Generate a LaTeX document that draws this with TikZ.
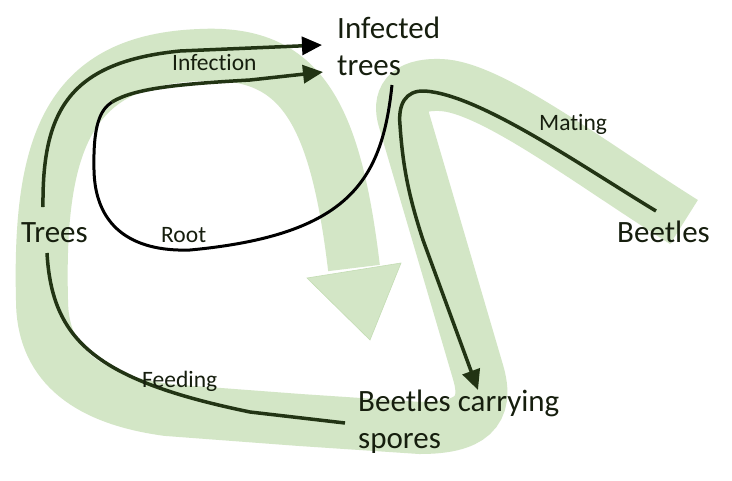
\documentclass[tikz,border=0pt]{standalone}
\usepackage{fontspec}
\setmainfont{Carlito}[Ligatures=NoCommon]
\usetikzlibrary{arrows.meta}

\definecolor{bandgreen}{RGB}{211,230,198}
\definecolor{bandedge}{RGB}{196,221,180}
\definecolor{flowgreen}{RGB}{34,52,20}
\definecolor{textdark}{RGB}{22,30,14}

\begin{document}
\begin{tikzpicture}[
        x=1pt,y=-1pt,
        band/.style={draw=bandgreen,line width=52pt},
        flow/.style={draw=flowgreen,line width=3.5pt},
        tip/.style={-{Triangle[length=20pt,width=18pt]}},
        bigtext/.style={font=\fontsize{31}{37}\selectfont,text=textdark,inner sep=0pt,align=left},
        smalltext/.style={font=\fontsize{23.5}{28}\selectfont,text=textdark,inner sep=0pt}
    ]
    \useasboundingbox[fill=white] (0,0) rectangle (732,480);

    % the wide pale band, one stroke from Beetles round to the big head
    \draw[band] (684,222)
        .. controls (590,163) and (490,86) .. (440,85)
        .. controls (405,84) and (398,100) .. (404,120)
        -- (478,372)
        .. controls (490,412) and (470,428) .. (420,428)
        -- (300,420) -- (167,410)
        .. controls (80,398) and (42,360) .. (42,300)
        .. controls (38,140) and (70,60) .. (200,55)
        .. controls (300,50) and (335,110) .. (354,268);
    \filldraw[fill=bandgreen,draw=bandedge,line width=0.6pt]
        (307,278) -- (401,263) -- (370,340) -- cycle;

    % end points of the thin arrows
    \coordinate (treestop) at (43,207);
    \coordinate (treesbottom) at (47,253);
    \coordinate (infectedtop) at (322,45);
    \coordinate (infectedlow) at (323,72);
    \coordinate (rootstart) at (392,85);
    \coordinate (rootturn) at (112,102);
    \coordinate (beetlesend) at (656,211);
    \coordinate (carrierstop) at (478,390);
    \coordinate (carriersleft) at (345,423);

    \draw[flow,-{Triangle[length=20pt,width=18pt,color=black]}] (treestop)
        .. controls (42,110) and (70,62) .. (180,51) -- (infectedtop);
    \draw[black,line width=3pt] (rootstart)
        .. controls (382,180) and (350,235) .. (190,250)
        .. controls (130,252) and (95,225) .. (94,170)
        .. controls (93,125) and (100,110) .. (rootturn);
    \draw[flow,tip] (rootturn)
        .. controls (135,88) and (180,84) .. (250,80) -- (infectedlow);
    \draw[flow,tip] (beetlesend)
        .. controls (580,165) and (480,95) .. (425,91)
        .. controls (405,90) and (398,105) .. (400,125)
        .. controls (403,170) and (410,200) .. (423,240) -- (carrierstop);
    \draw[flow] (treesbottom)
        .. controls (52,340) and (95,380) .. (250,412) -- (carriersleft);

    % texts
    \node[bigtext,anchor=base west] (trees) at (21,242) {Trees};
    \node[bigtext,anchor=base west] (beetles) at (617,242) {Beetles};
    \node[bigtext,anchor=north west] (infected) at (337,17) {Infected\\trees};
    \node[bigtext,anchor=north west] (carriers) at (358,390) {Beetles carrying\\spores};
    \node[smalltext,anchor=base west] (infection) at (172,70) {Infection};
    \node[smalltext,anchor=base west] (root) at (161,242) {Root};
    \node[smalltext,anchor=base west] (mating) at (539,130) {Mating};
    \node[smalltext,anchor=base west] (feeding) at (142,387) {Feeding};
\end{tikzpicture}
\end{document}
